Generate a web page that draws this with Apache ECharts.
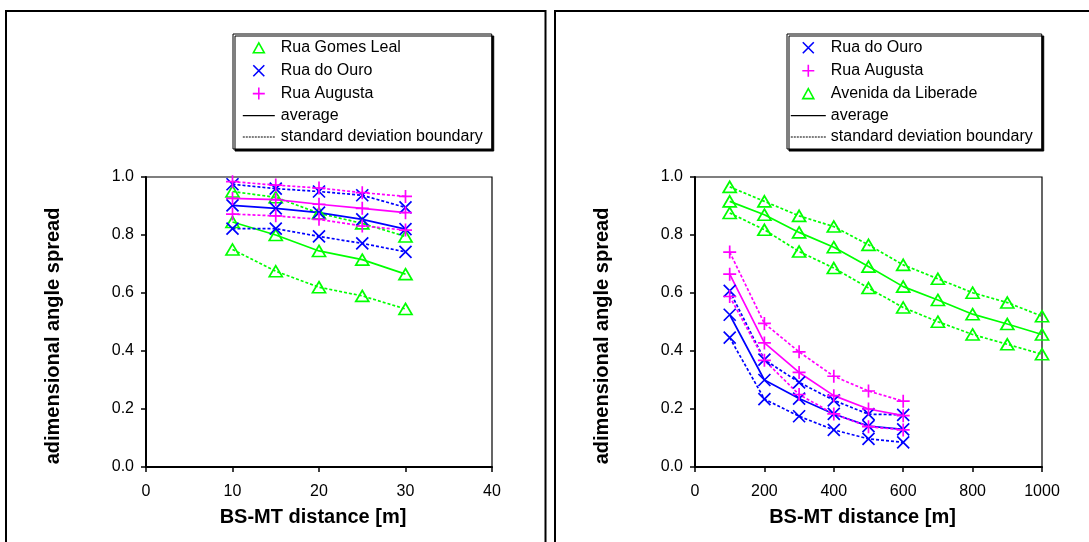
<!DOCTYPE html>
<html>
<head>
<meta charset="utf-8">
<title>adimensional angle spread vs BS-MT distance</title>
<script src="https://cdn.jsdelivr.net/npm/echarts@6/dist/echarts.min.js"></script>
<style>
  html, body { margin: 0; padding: 0; background: #fff; }
  #chart { width: 1089px; height: 542px; }
</style>
</head>
<body>
<div id="chart"></div>
<script>
// ---------- data ----------
// BS-MT distances [m]
const distMicro = [10, 15, 20, 25, 30];
const distUrban = [100, 200, 300, 400, 500, 600];
const distAvenue = [100, 200, 300, 400, 500, 600, 700, 800, 900, 1000];

// axis ticks
const xTicksMicro = [0, 10, 20, 30, 40];
const xTicksUrban = [0, 200, 400, 600, 800, 1000];
const yTicks = [0, 0.2, 0.4, 0.6, 0.8, 1.0];

// left panel: Rua Gomes Leal
const gomesUpper = [0.950, 0.930, 0.875, 0.840, 0.795];
const gomesAvg   = [0.845, 0.800, 0.745, 0.715, 0.665];
const gomesLower = [0.750, 0.675, 0.620, 0.590, 0.545];
// left panel: Rua do Ouro
const ouroUpperA = [0.975, 0.960, 0.950, 0.937, 0.895];
const ouroAvgA   = [0.902, 0.892, 0.877, 0.854, 0.820];
const ouroLowerA = [0.822, 0.822, 0.795, 0.771, 0.742];
// left panel: Rua Augusta
const augUpperA = [0.984, 0.972, 0.962, 0.946, 0.933];
const augAvgA   = [0.926, 0.922, 0.906, 0.892, 0.877];
const augLowerA = [0.872, 0.866, 0.854, 0.831, 0.817];

// right panel: Rua do Ouro
const ouroUpperB = [0.607, 0.370, 0.292, 0.230, 0.182, 0.180];
const ouroAvgB   = [0.525, 0.300, 0.236, 0.183, 0.141, 0.130];
const ouroLowerB = [0.446, 0.234, 0.175, 0.128, 0.097, 0.085];
// right panel: Rua Augusta
const augUpperB = [0.741, 0.495, 0.397, 0.313, 0.262, 0.227];
const augAvgB   = [0.665, 0.428, 0.326, 0.246, 0.200, 0.177];
const augLowerB = [0.588, 0.368, 0.250, 0.183, 0.139, 0.128];
// right panel: Avenida da Liberade
const avUpper = [0.966, 0.916, 0.866, 0.829, 0.766, 0.697, 0.649, 0.601, 0.567, 0.520];
const avAvg   = [0.916, 0.870, 0.809, 0.758, 0.691, 0.622, 0.576, 0.527, 0.493, 0.457];
const avLower = [0.876, 0.818, 0.743, 0.686, 0.617, 0.550, 0.501, 0.457, 0.423, 0.389];

// ---------- styling ----------
const FONT = "'Liberation Sans', Arial, Helvetica, sans-serif";
const GREEN = '#00ff00', BLUE = '#0000ff', MAGENTA = '#ff00ff';
const DASH = [3, 2];
const LINE_W = 1.7;

const SYM = {
  triangle: { path: 'path://M6 0L12 10L0 10Z', size: [13, 11] },
  cross:    { path: 'path://M0 0L10 10M10 0L0 10', size: [12, 12] },
  plus:     { path: 'path://M5 0V10M0 5H10', size: [13, 13] }
};

// legend glyphs drawn inside a w x h box (corner moveTos keep the box size)
function glyphIcon(kind, w, h) {
  const cx = w / 2, cy = h / 2;
  const box = 'M0 0M' + w + ' ' + h;
  if (kind === 'triangle') {
    return 'path://' + box + 'M' + (cx - 5.5) + ' ' + (cy + 5) + 'L' + cx + ' ' + (cy - 5) +
           'L' + (cx + 5.5) + ' ' + (cy + 5) + 'Z';
  }
  if (kind === 'cross') {
    return 'path://' + box + 'M' + (cx - 5.5) + ' ' + (cy - 5.5) + 'L' + (cx + 5.5) + ' ' + (cy + 5.5) +
           'M' + (cx + 5.5) + ' ' + (cy - 5.5) + 'L' + (cx - 5.5) + ' ' + (cy + 5.5);
  }
  return 'path://' + box + 'M' + cx + ' ' + (cy - 6) + 'V' + (cy + 6) + 'M' + (cx - 6) + ' ' + cy + 'H' + (cx + 6);
}
function solidIcon(w, h) {
  const y = h / 2 - 0.6;
  return 'path://M0 0M' + w + ' ' + h + 'M0 ' + y + 'H' + w + 'V' + (y + 1.2) + 'H0Z';
}
function dottedIcon(w, h) {
  const y = h / 2 - 0.6;
  let p = 'path://M0 0M' + w + ' ' + h;
  for (let x = 0; x + 2 <= w; x += 3) {
    p += 'M' + x + ' ' + y + 'h2v1.2h-2Z';
  }
  return p;
}

function curve(name, xs, ys, color, sym, dashed, gi) {
  return {
    type: 'line',
    name: name,
    xAxisIndex: gi,
    yAxisIndex: gi,
    data: xs.map((x, i) => [x, ys[i]]),
    symbol: SYM[sym].path,
    symbolSize: SYM[sym].size,
    showSymbol: true,
    showAllSymbol: true,
    itemStyle: { color: 'transparent', borderColor: color, borderWidth: LINE_W },
    lineStyle: { color: color, width: LINE_W, type: dashed ? DASH : 'solid' },
    emphasis: { disabled: true },
    silent: true,
    animation: false
  };
}

function family(name, xs, up, avg, low, color, sym, gi) {
  return [
    curve(name, xs, up, color, sym, true, gi),
    curve(name, xs, avg, color, sym, false, gi),
    curve(name, xs, low, color, sym, true, gi)
  ];
}

function xAxis(gi, ticks) {
  return {
    gridIndex: gi,
    type: 'value',
    min: ticks[0],
    max: ticks[ticks.length - 1],
    interval: ticks[1] - ticks[0],
    name: 'BS-MT distance [m]',
    nameLocation: 'middle',
    nameGap: 40,
    nameTextStyle: { fontFamily: FONT, fontSize: 20, fontWeight: 'bold', color: '#000', padding: [0, 12, 0, 0] },
    axisLine: { show: true, onZero: false, lineStyle: { color: '#000', width: 2 } },
    axisTick: { show: true, inside: false, length: 5, lineStyle: { color: '#000', width: 1.5 } },
    axisLabel: { color: '#000', fontFamily: FONT, fontSize: 16, margin: 17, showMaxLabel: true, showMinLabel: true,
                 formatter: v => String(v) },
    splitLine: { show: false }
  };
}

function yAxis(gi) {
  return {
    gridIndex: gi,
    type: 'value',
    min: yTicks[0],
    max: yTicks[yTicks.length - 1],
    interval: yTicks[1] - yTicks[0],
    name: 'adimensional angle spread',
    nameLocation: 'middle',
    nameRotate: 90,
    nameGap: 83,
    nameTextStyle: { fontFamily: FONT, fontSize: 20, fontWeight: 'bold', color: '#000', padding: [0, 28, 0, 0] },
    axisLine: { show: true, onZero: false, lineStyle: { color: '#000', width: 2 } },
    axisTick: { show: true, inside: false, length: 5, lineStyle: { color: '#000', width: 1.5 } },
    axisLabel: { color: '#000', fontFamily: FONT, fontSize: 16, margin: 12, formatter: v => v.toFixed(1) },
    splitLine: { show: false }
  };
}

function legendEntry(name, kind, color, w, h) {
  return {
    name: name,
    icon: glyphIcon(kind, w, h),
    itemStyle: { color: 'transparent', borderColor: color, borderWidth: 1.6 }
  };
}
function lineEntry(name, dotted, w, h) {
  return {
    name: name,
    icon: dotted ? dottedIcon(w, h) : solidIcon(w, h),
    itemStyle: { color: '#000', borderWidth: 0 }
  };
}

function legend(left, padding, w, textPad, entries) {
  return {
    orient: 'vertical',
    left: left,
    top: 34,
    padding: padding,
    itemWidth: w,
    itemHeight: 16,
    itemGap: 5.3,
    symbolKeepAspect: true,
    backgroundColor: '#fff',
    borderColor: '#000',
    borderWidth: 1,
    borderRadius: 0,
    shadowColor: '#000',
    shadowBlur: 0,
    shadowOffsetX: 2,
    shadowOffsetY: 2,
    selectedMode: false,
    textStyle: { color: '#000', fontFamily: FONT, fontSize: 16, padding: [0, 0, 0, textPad] },
    data: entries
  };
}

const LW = 32, RW = 35, LH = 16;

const option = {
  backgroundColor: '#fff',
  animation: false,
  graphic: [
    { type: 'rect', z: -10, shape: { x: 6, y: 11, width: 539.5, height: 600 },
      style: { fill: 'none', stroke: '#000', lineWidth: 2 } },
    { type: 'rect', z: -10, shape: { x: 555, y: 11, width: 600, height: 600 },
      style: { fill: 'none', stroke: '#000', lineWidth: 2 } }
  ],
  grid: [
    { left: 146, top: 177, right: 597, bottom: 75, show: true, borderColor: '#000', borderWidth: 1.2,
      backgroundColor: 'transparent', outerBoundsMode: 'none', containLabel: false },
    { left: 695, top: 177, right: 47, bottom: 75, show: true, borderColor: '#000', borderWidth: 1.2,
      backgroundColor: 'transparent', outerBoundsMode: 'none', containLabel: false }
  ],
  xAxis: [xAxis(0, xTicksMicro), xAxis(1, xTicksUrban)],
  yAxis: [yAxis(0), yAxis(1)],
  legend: [
    legend(233, [5, 9, 4, 9], LW, 1, [
      legendEntry('Rua Gomes Leal', 'triangle', GREEN, LW, LH),
      legendEntry('Rua do Ouro', 'cross', BLUE, LW, LH),
      legendEntry('Rua Augusta', 'plus', MAGENTA, LW, LH),
      lineEntry('average', false, LW, LH),
      lineEntry('standard deviation boundary', true, LW, LH)
    ]),
    legend(787, [5, 9, 4, 3], RW, 0, [
      legendEntry('Rua do Ouro', 'cross', BLUE, RW, LH),
      legendEntry('Rua Augusta', 'plus', MAGENTA, RW, LH),
      legendEntry('Avenida da Liberade', 'triangle', GREEN, RW, LH),
      lineEntry('average', false, RW, LH),
      lineEntry('standard deviation boundary', true, RW, LH)
    ])
  ],
  series: [
    ...family('Rua Gomes Leal', distMicro, gomesUpper, gomesAvg, gomesLower, GREEN, 'triangle', 0),
    ...family('Rua do Ouro', distMicro, ouroUpperA, ouroAvgA, ouroLowerA, BLUE, 'cross', 0),
    ...family('Rua Augusta', distMicro, augUpperA, augAvgA, augLowerA, MAGENTA, 'plus', 0),
    ...family('Avenida da Liberade', distAvenue, avUpper, avAvg, avLower, GREEN, 'triangle', 1),
    ...family('Rua do Ouro', distUrban, ouroUpperB, ouroAvgB, ouroLowerB, BLUE, 'cross', 1),
    ...family('Rua Augusta', distUrban, augUpperB, augAvgB, augLowerB, MAGENTA, 'plus', 1),
    // line-style keys for the legends
    { type: 'line', name: 'average', xAxisIndex: 0, yAxisIndex: 0, data: [], symbol: 'none',
      itemStyle: { color: '#000' }, lineStyle: { color: '#000', width: 1.5 } },
    { type: 'line', name: 'standard deviation boundary', xAxisIndex: 0, yAxisIndex: 0, data: [], symbol: 'none',
      itemStyle: { color: '#000' }, lineStyle: { color: '#000', width: 1.5, type: DASH } }
  ]
};

const chart = echarts.init(document.getElementById('chart'), null, { renderer: 'canvas' });
chart.setOption(option);
</script>
</body>
</html>
